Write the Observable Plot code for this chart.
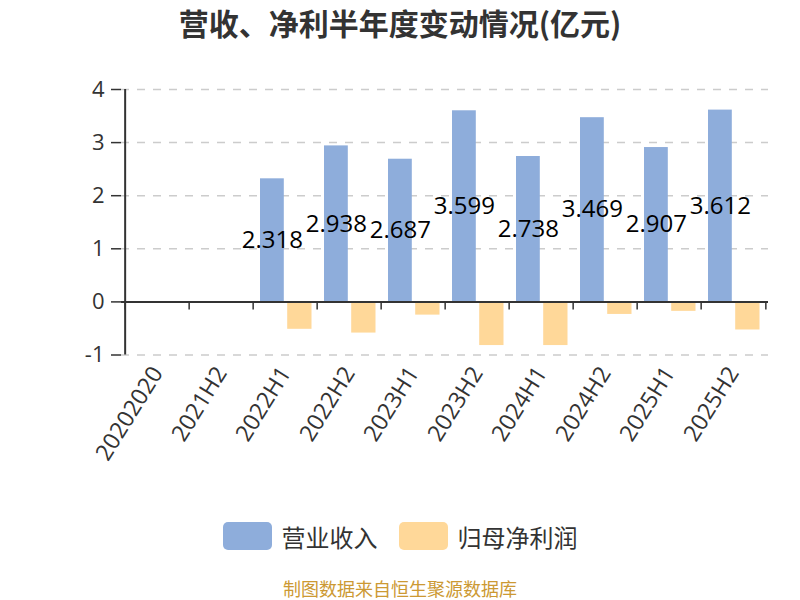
<!DOCTYPE html>
<html>
<head>
<meta charset="utf-8">
<script src="https://cdn.jsdelivr.net/npm/d3@7"></script>
<script src="https://cdn.jsdelivr.net/npm/@observablehq/plot@0.6"></script>
<style>
  body { margin: 0; background: #fff; font-family: "Open Sans", "Noto Sans CJK SC", sans-serif; }
  #wrap { position: relative; width: 800px; height: 600px; overflow: hidden; background: #fff; }
  #title { position: absolute; left: 0; top: 0; width: 800px; text-align: center; font-size: 30px; font-weight: bold; color: #333; line-height: 44px; font-family: "Noto Sans CJK SC", sans-serif; }
  #chart { position: absolute; left: 0; top: 48px; }
  #legend { position: absolute; top: 518px; left: 0; width: 800px; height: 36px; display: flex; justify-content: center; align-items: center; gap: 21px; font-size: 24px; color: #333; font-family: "Noto Sans CJK SC", sans-serif; }
  .item { display: flex; align-items: center; gap: 10px; }
  .sw { width: 49px; height: 28px; border-radius: 5px; }
  #footer { position: absolute; top: 576px; left: 0; width: 800px; text-align: center; font-size: 18px; color: #cc9933; line-height: 24px; font-family: "Noto Sans CJK SC", sans-serif; }
</style>
</head>
<body>
<div id="wrap">
  <div id="title">营收、净利半年度变动情况(亿元)</div>
  <div id="chart"></div>
  <div id="legend"></div>
  <div id="footer">制图数据来自恒生聚源数据库</div>
</div>
<script>
const categories = ["20202020", "2021H2", "2022H1", "2022H2", "2023H1", "2023H2", "2024H1", "2024H2", "2025H1", "2025H2"];
const revenue = [null, null, 2.318, 2.938, 2.687, 3.599, 2.738, 3.469, 2.907, 3.612];
const profit = [null, null, -0.516, -0.587, -0.249, -0.822, -0.822, -0.236, -0.178, -0.529];
const seriesNames = ["营业收入", "归母净利润"];
const seriesColors = ["#8eaddb", "#ffd899"];
const yTicks = [-1, 0, 1, 2, 3, 4];
const yTickLabels = ["-1", "0", "1", "2", "3", "4"];
const yDomain = [-1, 4];

const W = 800, H = 450, ML = 121, MR = 32, MT = 41, MB = 143.5;
const step = (W - ML - MR) / categories.length;
const half = step / 2;

const rows = categories.map((c, i) => ({category: c, revenue: revenue[i], profit: profit[i]}));
const revRows = rows.filter(d => d.revenue != null);
const profRows = rows.filter(d => d.profit != null);

const axisColor = "#333";

const chart = Plot.plot({
  width: W,
  height: H,
  marginLeft: ML,
  marginRight: MR,
  marginTop: MT,
  marginBottom: MB,
  style: {fontFamily: '"Open Sans", "Noto Sans CJK SC", sans-serif', background: "#fff", overflow: "visible"},
  x: {type: "band", domain: categories, padding: 0},
  y: {domain: yDomain},
  marks: [
    Plot.gridY(yTicks.filter(t => t !== 0), {stroke: "#ccc", strokeOpacity: 1, strokeWidth: 1.5, strokeDasharray: "8,8"}),
    Plot.axisY({ticks: yTicks, tickFormat: d => yTickLabels[yTicks.indexOf(d)], tickSize: 10, tickPadding: 7, fontSize: 22, color: axisColor, strokeWidth: 1.5, label: null}),
    Plot.axisX({tickSize: 0, tickRotate: -58, tickPadding: 14, fontSize: 23, color: axisColor, label: null}),
    Plot.barY(profRows, {x: "category", y: "profit", fill: seriesColors[1], insetLeft: 34.2, insetRight: 5.5}),
    Plot.barY(revRows, {x: "category", y: "revenue", fill: seriesColors[0], insetLeft: 7, insetRight: 33.2}),
    Plot.ruleY([0], {stroke: axisColor, strokeWidth: 2}),
    Plot.ruleX(categories, {dx: -half, y1: 0, y2: 0, insetBottom: -8, stroke: axisColor, strokeWidth: 1.5}),
    Plot.ruleX([categories[categories.length - 1]], {dx: half, y1: 0, y2: 0, insetBottom: -8, stroke: axisColor, strokeWidth: 1.5}),
    Plot.ruleX([categories[0]], {dx: -half, y1: yDomain[0], y2: yDomain[1], stroke: axisColor, strokeWidth: 2}),
    Plot.text(revRows, {x: "category", y: d => d.revenue / 2, text: d => d.revenue.toFixed(3), dx: -13.1, fontSize: 24, fill: "#000"})
  ]
});
document.getElementById("chart").appendChild(chart);

const legend = document.getElementById("legend");
seriesNames.forEach((name, i) => {
  const item = document.createElement("div");
  item.className = "item";
  const sw = document.createElement("div");
  sw.className = "sw";
  sw.style.background = seriesColors[i];
  const label = document.createElement("span");
  label.textContent = name;
  item.appendChild(sw);
  item.appendChild(label);
  legend.appendChild(item);
});
</script>
</body>
</html>
